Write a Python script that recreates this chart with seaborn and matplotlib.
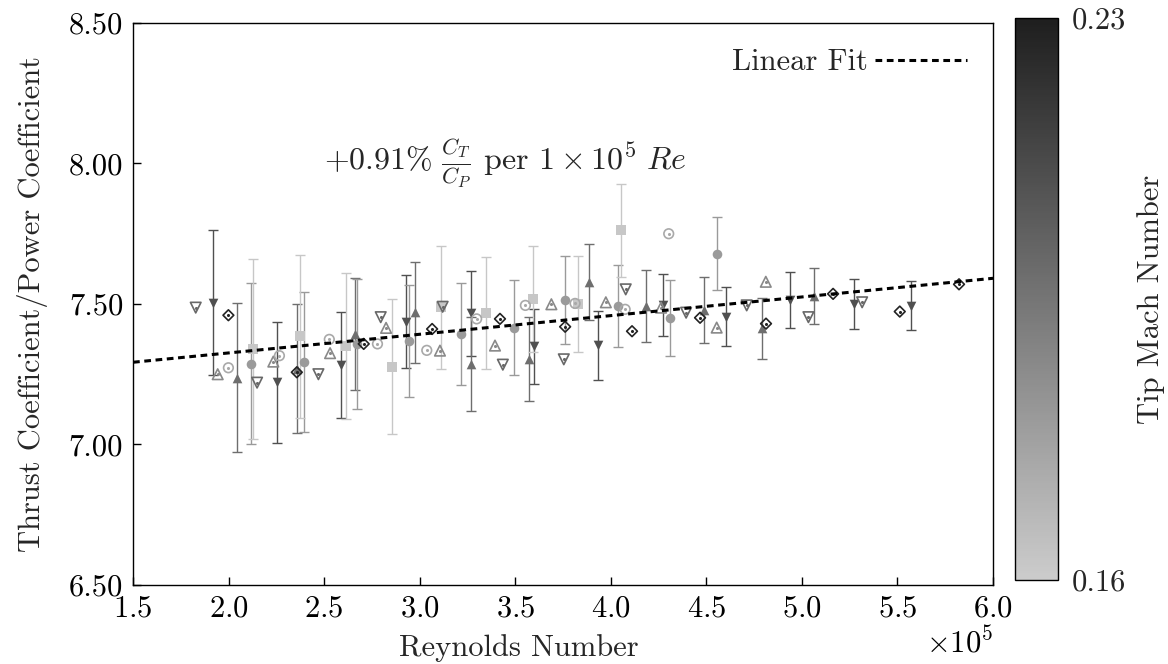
import matplotlib
matplotlib.use("Agg")
import matplotlib.pyplot as plt
import numpy as np
import seaborn as sns
from matplotlib.cm import ScalarMappable
from matplotlib.colors import LinearSegmentedColormap, Normalize
from matplotlib.ticker import FormatStrFormatter, MultipleLocator

# Reynolds numbers are in units of 1e5, ratio is C_T/C_P, err is the half-width of the bar

# filled down triangles
dn_re = [1.917, 2.254, 2.588, 2.930, 3.269, 3.598, 3.932, 4.272, 4.601, 4.936, 5.271, 5.570]
dn_ratio = [7.505, 7.222, 7.283, 7.437, 7.467, 7.350, 7.353, 7.496, 7.455, 7.514, 7.500, 7.494]
dn_err = [0.258, 0.215, 0.190, 0.166, 0.152, 0.133, 0.123, 0.111, 0.105, 0.099, 0.090, 0.086]
dn_mach = 0.210

# filled up triangles
up_re = [2.046, 2.357, 2.663, 2.976, 3.269, 3.574, 3.886, 4.183, 4.490, 4.793, 5.062]
up_ratio = [7.238, 7.270, 7.393, 7.470, 7.287, 7.303, 7.578, 7.493, 7.479, 7.413, 7.528]
up_err = [0.264, 0.230, 0.200, 0.180, 0.167, 0.150, 0.135, 0.129, 0.117, 0.108, 0.100]
up_mach = 0.198

# filled circles
circ_re = [2.117, 2.396, 2.671, 2.943, 3.215, 3.495, 3.761, 4.038, 4.312, 4.554]
circ_ratio = [7.287, 7.294, 7.358, 7.369, 7.393, 7.416, 7.514, 7.493, 7.450, 7.679]
circ_err = [0.286, 0.250, 0.230, 0.200, 0.180, 0.170, 0.157, 0.146, 0.135, 0.130]
circ_mach = 0.180

# filled squares
sq_re = [2.130, 2.374, 2.615, 2.857, 3.110, 3.346, 3.592, 3.830, 4.052]
sq_ratio = [7.339, 7.386, 7.349, 7.276, 7.488, 7.467, 7.518, 7.499, 7.762]
sq_err = [0.320, 0.290, 0.260, 0.240, 0.220, 0.200, 0.190, 0.170, 0.165]
sq_mach = 0.162

# open down triangles
odn_re = [1.828, 2.149, 2.470, 2.796, 3.120, 3.435, 3.754, 4.078, 4.394, 4.711, 5.034, 5.315]
odn_ratio = [7.487, 7.220, 7.250, 7.453, 7.490, 7.284, 7.303, 7.552, 7.469, 7.495, 7.453, 7.506]
odn_mach = 0.200

# open up triangles
oup_re = [1.943, 2.234, 2.531, 2.824, 3.106, 3.394, 3.689, 3.974, 4.263, 4.554, 4.811]
oup_ratio = [7.250, 7.295, 7.325, 7.415, 7.334, 7.352, 7.499, 7.506, 7.487, 7.416, 7.579]
oup_mach = 0.187

# open circles
ocirc_re = [1.999, 2.266, 2.527, 2.779, 3.037, 3.298, 3.553, 3.813, 4.075, 4.303]
ocirc_ratio = [7.273, 7.316, 7.374, 7.358, 7.335, 7.447, 7.495, 7.502, 7.481, 7.750]
ocirc_mach = 0.174

# open diamonds
dia_re = [1.999, 2.357, 2.707, 3.065, 3.420, 3.761, 4.111, 4.467, 4.812, 5.163, 5.512, 5.822]
dia_ratio = [7.460, 7.257, 7.358, 7.411, 7.447, 7.419, 7.403, 7.451, 7.430, 7.536, 7.473, 7.570]
dia_mach = 0.228

# linear fit, ratio = intercept + slope * (Re / 1e5)
fit_intercept = 7.193
fit_slope = 0.0664

mach_range = (0.16, 0.23)

sns.set_theme(style="ticks")
fs = 22
plt.rcParams.update({
    "font.family": ["cmr10", "DejaVu Serif"],
    "mathtext.fontset": "cm",
    "axes.formatter.use_mathtext": True,
    "axes.unicode_minus": False,
    "font.size": fs,
    "axes.labelsize": fs,
    "xtick.labelsize": fs,
    "ytick.labelsize": fs,
    "legend.fontsize": fs,
})

cmap = LinearSegmentedColormap.from_list("mach", ["#cccccc", "#1e1e1e"])
norm = Normalize(*mach_range)

fig = plt.figure(figsize=(11.68, 6.64), dpi=100)
ax = fig.add_axes([0.1139, 0.119, 0.7363, 0.8464])

filled = [
    (dn_re, dn_ratio, dn_err, dn_mach, "v"),
    (up_re, up_ratio, up_err, up_mach, "^"),
    (circ_re, circ_ratio, circ_err, circ_mach, "o"),
    (sq_re, sq_ratio, sq_err, sq_mach, "s"),
]
for re, ratio, err, mach, marker in filled:
    x = np.array(re) * 1e5
    color = cmap(norm(mach))
    ax.errorbar(x, ratio, yerr=err, fmt="none", ecolor=color, elinewidth=1.0,
                capsize=3.5, capthick=1.0, zorder=2)
    sns.scatterplot(x=x, y=ratio, marker=marker, color=color, s=48,
                    linewidth=0, ax=ax, zorder=3, legend=False)

hollow = [
    (odn_re, odn_ratio, odn_mach, "v", 58),
    (oup_re, oup_ratio, oup_mach, "^", 58),
    (ocirc_re, ocirc_ratio, ocirc_mach, "o", 48),
    (dia_re, dia_ratio, dia_mach, "D", 30),
]
for re, ratio, mach, marker, size in hollow:
    x = np.array(re) * 1e5
    color = cmap(norm(mach))
    ax.scatter(x, ratio, marker=marker, s=size, facecolors="none",
               edgecolors=color, linewidths=1.2, zorder=4)
    ax.scatter(x, ratio, marker="o", s=1.5, color=color, zorder=4)

ax.axline((0, fit_intercept), slope=fit_slope * 1e-5, color="black", lw=2.2,
          linestyle=(0, (2.2, 1.5)), zorder=5, label="Linear Fit")

ax.set_xlim(1.5e5, 6.0e5)
ax.set_ylim(6.5, 8.5)
ax.xaxis.set_major_locator(MultipleLocator(0.5e5))
ax.yaxis.set_major_locator(MultipleLocator(0.5))
ax.yaxis.set_major_formatter(FormatStrFormatter("%.2f"))
ax.ticklabel_format(axis="x", style="sci", scilimits=(5, 5), useMathText=True)
ax.tick_params(direction="in", length=6, width=1, colors="black", pad=7)
for spine in ax.spines.values():
    spine.set_visible(True)
    spine.set_color("black")
    spine.set_linewidth(1.0)

ax.set_xlabel("Reynolds Number", va="center")
ax.xaxis.set_label_coords(0.448, -0.112)
ax.set_ylabel("Thrust Coefficient/Power Coefficient", labelpad=15)

ax.text(2.5e5, 8.0, r"$+0.91\%\ \frac{C_T}{C_P}$ per $1 \times 10^5\ Re$",
        ha="left", va="center", fontsize=23)

ax.legend(loc="upper right", frameon=False, markerfirst=False, handlelength=3.0,
          handletextpad=0.25, borderaxespad=0.45)

cax = fig.add_axes([0.869, 0.1265, 0.0368, 0.8464])
cb = fig.colorbar(ScalarMappable(norm=norm, cmap=cmap), cax=cax, ticks=list(mach_range))
cb.ax.set_yticklabels([f"{v:.2f}" for v in mach_range])
cb.ax.tick_params(length=0, pad=10)
cb.outline.set_linewidth(1.0)
cb.outline.set_edgecolor("black")
cb.set_label("Tip Mach Number", labelpad=8)

fig.savefig("out.png", dpi=100)
